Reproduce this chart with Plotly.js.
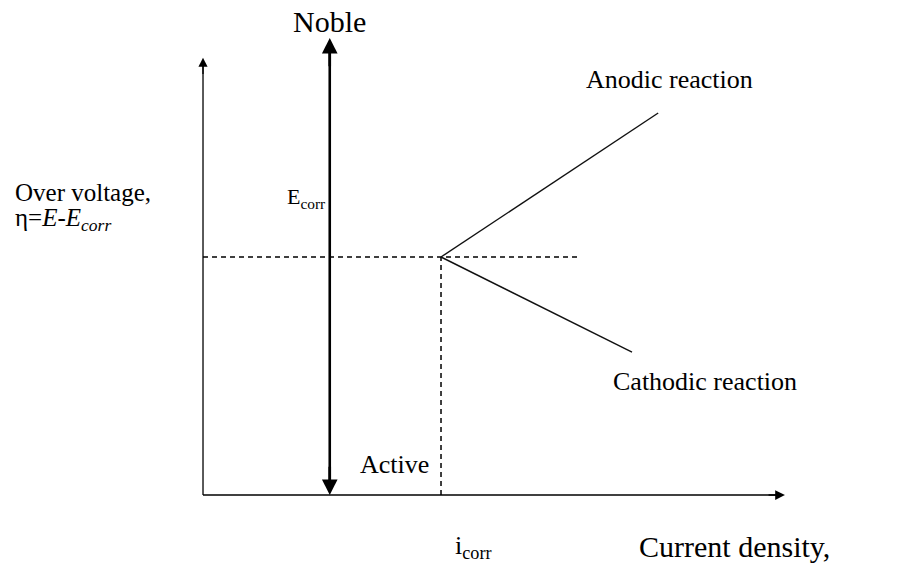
<!DOCTYPE html>
<html>
<head>
<meta charset="utf-8">
<script src="https://cdn.plot.ly/plotly-3.0.1.min.js"></script>
<style>html,body{margin:0;padding:0;background:#fff;}#chart{width:901px;height:565px;}</style>
</head>
<body>
<div id="chart"></div>
<script>
// Schematic values (arbitrary units; origin at axes intersection)
const icorr = 4.0;            // corrosion current density position
const ecorrLevel = 4.0;       // corrosion potential level
const yAxisTop = 7.35;
const xAxisEnd = 9.78;
const nobleArrowX = 2.13;
const nobleArrowTop = 7.68;
const dashedEnd = 6.30;
const anodicX = [4.0, 7.65];
const anodicY = [4.0, 6.42];
const cathodicX = [4.0, 7.21];
const cathodicY = [4.0, 2.40];

const black = '#000';
const FONT = 'Liberation Serif, Times New Roman, serif';

const traces = [
  // y axis
  {x:[0,0], y:[0,yAxisTop-0.1], mode:'lines', line:{color:black,width:1.3}},
  // x axis
  {x:[0,xAxisEnd-0.1], y:[0,0], mode:'lines', line:{color:black,width:1.3}},
  // Noble/Active double arrow
  {x:[nobleArrowX,nobleArrowX], y:[0.2,nobleArrowTop-0.2], mode:'lines', line:{color:black,width:2.6}},
  // Ecorr dashed horizontal
  {x:[0,dashedEnd], y:[ecorrLevel,ecorrLevel], mode:'lines', line:{color:black,width:1.5,dash:'5px,4px'}},
  // icorr dashed vertical
  {x:[icorr,icorr], y:[0,ecorrLevel], mode:'lines', line:{color:black,width:1.5,dash:'5px,4px'}},
  // anodic
  {x:anodicX, y:anodicY, mode:'lines', line:{color:'#111',width:1.4}},
  // cathodic
  {x:cathodicX, y:cathodicY, mode:'lines', line:{color:'#111',width:1.4}}
];

function head(x, y, ax, ay, w, s){
  return {x:x, y:y, ax:ax, ay:ay, xref:'x', yref:'y', axref:'x', ayref:'y',
    text:'', showarrow:true, arrowhead:2, arrowwidth:w, arrowsize:s, arrowcolor:black, standoff:0};
}
function label(x, y, text, size, xanchor, extra){
  return Object.assign({x:x, y:y, xref:'x', yref:'y', text:text, showarrow:false,
    xanchor:xanchor||'center', yanchor:'middle', font:{family:FONT, size:size, color:black}}, extra||{});
}

const annotations = [
  head(0, yAxisTop, 0, yAxisTop-0.3, 1.3, 1.4),
  head(xAxisEnd, 0, xAxisEnd-0.3, 0, 1.3, 1.5),
  head(nobleArrowX, nobleArrowTop, nobleArrowX, nobleArrowTop-0.5, 2.6, 1.2),
  head(nobleArrowX, 0, nobleArrowX, 0.5, 2.6, 1.2),
  label(nobleArrowX, 7.95, 'Noble', 30),
  label(6.40, 6.98, 'Anodic reaction', 26, 'left'),
  label(6.86, 1.91, 'Cathodic reaction', 26, 'left'),
  label(-3.20, 5.08, 'Over voltage,', 25, 'left'),
  label(-3.20, 4.63, 'η=<i>E</i>-<i>E<sub>corr</sub></i>', 25, 'left'),
  label(1.37, 5.0, 'E<sub>corr</sub>', 22, 'left'),
  label(2.6, 0.52, 'Active', 26, 'left'),
  label(4.2, -0.88, 'i<sub>corr</sub>', 26, 'left'),
  label(7.3, -0.86, 'Current density,', 30, 'left')
];

const layout = {
  width:901, height:565,
  margin:{l:0,r:0,t:0,b:0,pad:0},
  paper_bgcolor:'#fff', plot_bgcolor:'#fff',
  showlegend:false,
  xaxis:{range:[-3.412, 11.731], visible:false, fixedrange:true},
  yaxis:{range:[-1.176, 8.319], visible:false, fixedrange:true},
  annotations:annotations
};

Plotly.newPlot('chart', traces, layout, {staticPlot:true, displayModeBar:false});
</script>
</body>
</html>
